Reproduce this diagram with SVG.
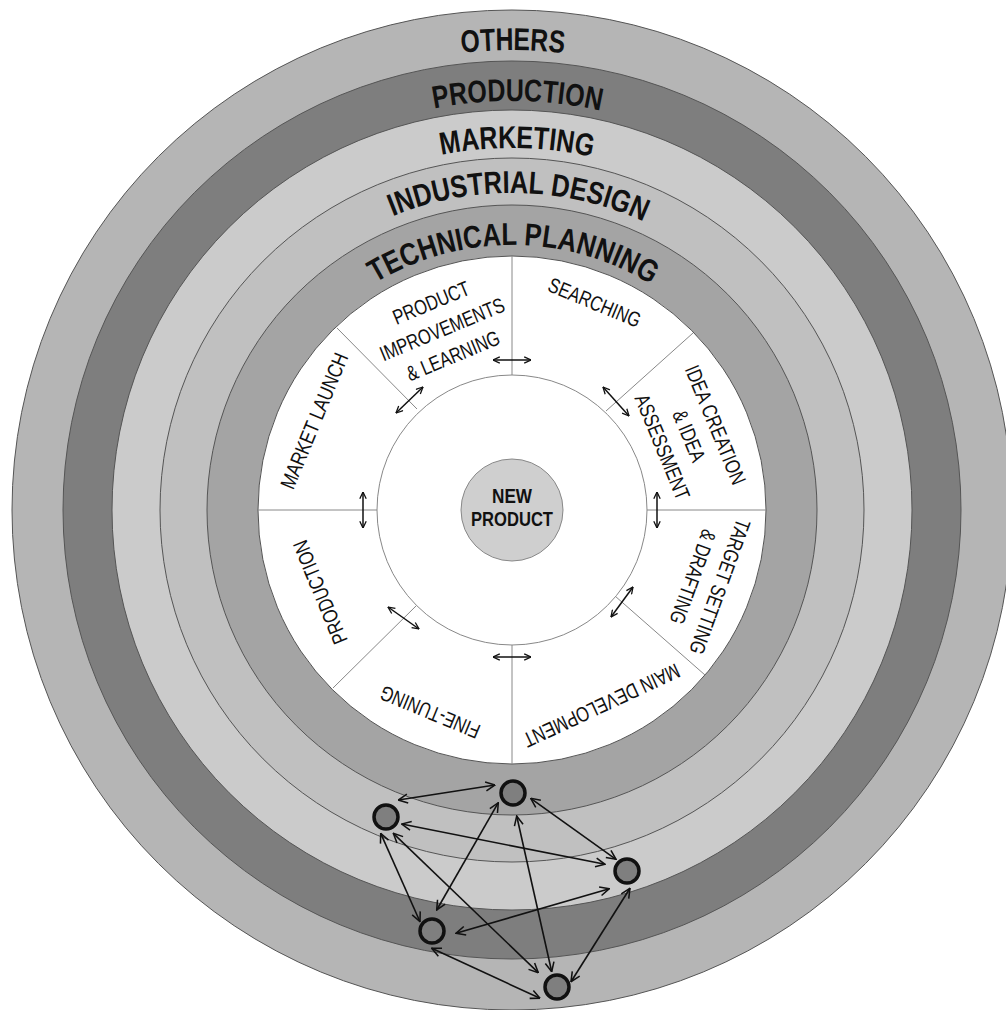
<svg xmlns="http://www.w3.org/2000/svg" width="1006" height="1010" viewBox="0 0 1006 1010">
<style>
.ring{stroke:#555;stroke-width:1}
.ringtxt{font-family:"Liberation Sans Narrow","Liberation Sans",Arial,sans-serif;font-weight:bold;font-size:31.5px;fill:#111}
.lbl{font-family:"Liberation Sans Narrow","Liberation Sans",Arial,sans-serif;font-size:21px;fill:#111;text-anchor:middle}
.div{stroke:#888;stroke-width:1}
.arr{stroke:#111;stroke-width:1.5;fill:none;marker-start:url(#ah);marker-end:url(#ah)}
.net{stroke:#111;stroke-width:1.6;fill:none;marker-start:url(#ah2);marker-end:url(#ah2)}
.node{fill:#7f7f7f;stroke:#111;stroke-width:3.5}
</style>
<defs>
<marker id="ah" viewBox="0 0 10 10" refX="9.5" refY="5" markerWidth="8" markerHeight="8" markerUnits="userSpaceOnUse" orient="auto-start-reverse">
<path d="M1,1 L9.5,5 L1,9" fill="none" stroke="#111" stroke-width="1.6"/>
</marker>
<marker id="ah2" viewBox="0 0 10 10" refX="9.5" refY="5" markerWidth="11" markerHeight="11" markerUnits="userSpaceOnUse" orient="auto-start-reverse">
<path d="M1,1 L9.5,5 L1,9" fill="none" stroke="#111" stroke-width="1.4"/>
</marker>
<path id="p460" d="M52,510 A460,460 0 0 1 972,510"/>
<path id="p409" d="M103,510 A409,409 0 0 1 921,510"/>
<path id="p362" d="M150,510 A362,362 0 0 1 874,510"/>
<path id="p317" d="M195,510 A317,317 0 0 1 829,510"/>
<path id="p265" d="M247,510 A265,265 0 0 1 777,510"/>
</defs>
<rect width="1006" height="1010" fill="#fff"/>
<g id="rings">
<circle id="others" class="ring" cx="512" cy="510" r="500" fill="#b5b5b5"/>
<circle id="production-ring" class="ring" cx="512" cy="510" r="449" fill="#7e7e7e"/>
<circle id="marketing" class="ring" cx="512" cy="510" r="400" fill="#cbcbcb"/>
<circle id="industrial-design" class="ring" cx="512" cy="510" r="352" fill="#c0c0c0"/>
<circle id="technical-planning" class="ring" cx="512" cy="510" r="305" fill="#a4a4a4"/>
<circle id="process" class="ring" cx="512" cy="510" r="254" fill="#fff"/>
</g>
<g id="ring-labels" class="ringtxt">
<text transform="rotate(0.1 512 510)"><textPath href="#p460" startOffset="50%" text-anchor="middle" textLength="103" lengthAdjust="spacingAndGlyphs">OTHERS</textPath></text>
<text transform="rotate(0.76 512 510)"><textPath href="#p409" startOffset="50%" text-anchor="middle" textLength="168" lengthAdjust="spacingAndGlyphs">PRODUCTION</textPath></text>
<text transform="rotate(0.77 512 510)"><textPath href="#p362" startOffset="50%" text-anchor="middle" textLength="152" lengthAdjust="spacingAndGlyphs">MARKETING</textPath></text>
<text transform="rotate(1.2 512 510)"><textPath href="#p317" startOffset="50%" text-anchor="middle" textLength="258" lengthAdjust="spacingAndGlyphs">INDUSTRIAL DESIGN</textPath></text>
<text transform="rotate(0.3 512 510)"><textPath href="#p265" startOffset="50%" text-anchor="middle" textLength="290" lengthAdjust="spacingAndGlyphs">TECHNICAL PLANNING</textPath></text>
</g>
<g id="dividers">
<line class="div" x1="512" y1="256" x2="512" y2="375"/>
<line class="div" x1="512" y1="645" x2="512" y2="764"/>
<line class="div" x1="258" y1="510" x2="377" y2="510"/>
<line class="div" x1="647" y1="510" x2="766" y2="510"/>
<line class="div" x1="337" y1="328" x2="417" y2="409"/>
<line class="div" x1="693" y1="333" x2="606" y2="411"/>
<line class="div" x1="615" y1="596" x2="705" y2="675"/>
<line class="div" x1="417" y1="605" x2="333" y2="688"/>
<circle cx="512" cy="510" r="135" fill="#fff" stroke="#888" stroke-width="1"/>
</g>
<g id="new-product">
<circle cx="512" cy="510" r="51" fill="#cfcfcf" stroke="#888" stroke-width="1"/>
<text class="lbl" font-weight="bold" x="512" y="503" textLength="40" lengthAdjust="spacingAndGlyphs">NEW</text>
<text class="lbl" font-weight="bold" x="512" y="526" textLength="82" lengthAdjust="spacingAndGlyphs">PRODUCT</text>
</g>
<g id="phase-searching"><text class="lbl" transform="translate(594.7 302.3) rotate(22.5)" y="7.5" textLength="98" lengthAdjust="spacingAndGlyphs">SEARCHING</text></g>
<g id="phase-idea" transform="translate(689.2 435.8) rotate(67.5)">
<text class="lbl" y="-21.2" textLength="127" lengthAdjust="spacingAndGlyphs">IDEA CREATION</text>
<text class="lbl" y="7.5" textLength="54" lengthAdjust="spacingAndGlyphs">&amp; IDEA</text>
<text class="lbl" y="36.2" textLength="112" lengthAdjust="spacingAndGlyphs">ASSESSMENT</text>
</g>
<g id="phase-target" transform="translate(706.7 582) rotate(110)">
<text class="lbl" y="-6.8" textLength="142" lengthAdjust="spacingAndGlyphs">TARGET SETTING</text>
<text class="lbl" y="21.9" textLength="99" lengthAdjust="spacingAndGlyphs">&amp; DRAFTING</text>
</g>
<g id="phase-main"><text class="lbl" transform="translate(601.7 705.7) rotate(155)" y="7.5" textLength="170" lengthAdjust="spacingAndGlyphs">MAIN DEVELOPMENT</text></g>
<g id="phase-fine"><text class="lbl" transform="translate(430 712.3) rotate(202.5)" y="7.5" textLength="106" lengthAdjust="spacingAndGlyphs">FINE-TUNING</text></g>
<g id="phase-production"><text class="lbl" transform="translate(320 592.3) rotate(247.5)" y="7.5" textLength="110" lengthAdjust="spacingAndGlyphs">PRODUCTION</text></g>
<g id="phase-market"><text class="lbl" transform="translate(314 420.7) rotate(-67.5)" y="7.5" textLength="145" lengthAdjust="spacingAndGlyphs">MARKET LAUNCH</text></g>
<g id="phase-improve" transform="translate(442 329) rotate(-22.5)">
<text class="lbl" y="-21.2" textLength="81" lengthAdjust="spacingAndGlyphs">PRODUCT</text>
<text class="lbl" y="7.5" textLength="133" lengthAdjust="spacingAndGlyphs">IMPROVEMENTS</text>
<text class="lbl" y="36.2" textLength="99" lengthAdjust="spacingAndGlyphs">&amp; LEARNING</text>
</g>
<g id="connectors">
<line class="arr" x1="493" y1="360" x2="531" y2="360"/>
<line class="arr" x1="603" y1="387" x2="629" y2="416"/>
<line class="arr" x1="657" y1="492" x2="657" y2="528"/>
<line class="arr" x1="611" y1="617" x2="633" y2="587"/>
<line class="arr" x1="493" y1="657" x2="531" y2="657"/>
<line class="arr" x1="388" y1="607" x2="419" y2="629"/>
<line class="arr" x1="363" y1="492" x2="363" y2="528"/>
<line class="arr" x1="396" y1="413" x2="423" y2="387"/>
<line class="net" x1="398.3" y1="800" x2="495" y2="785"/>
<line class="net" x1="530.7" y1="798.3" x2="616" y2="859.3"/>
<line class="net" x1="498.3" y1="802.7" x2="436.7" y2="910"/>
<line class="net" x1="516.7" y1="816" x2="551.7" y2="971.7"/>
<line class="net" x1="401.7" y1="824" x2="605" y2="864.3"/>
<line class="net" x1="380.7" y1="833.3" x2="420" y2="921.7"/>
<line class="net" x1="393.3" y1="833.3" x2="538.3" y2="972.7"/>
<line class="net" x1="609.3" y1="888.7" x2="456" y2="933.3"/>
<line class="net" x1="630" y1="888.3" x2="571" y2="981.7"/>
<line class="net" x1="431.7" y1="948.3" x2="540" y2="998.3"/>
</g>
<g id="node-a"><circle class="node" cx="513" cy="793" r="12"/></g>
<g id="node-b"><circle class="node" cx="386" cy="817" r="12"/></g>
<g id="node-c"><circle class="node" cx="627" cy="871" r="12"/></g>
<g id="node-d"><circle class="node" cx="432" cy="931" r="12"/></g>
<g id="node-e"><circle class="node" cx="557" cy="987" r="12"/></g>
</svg>
